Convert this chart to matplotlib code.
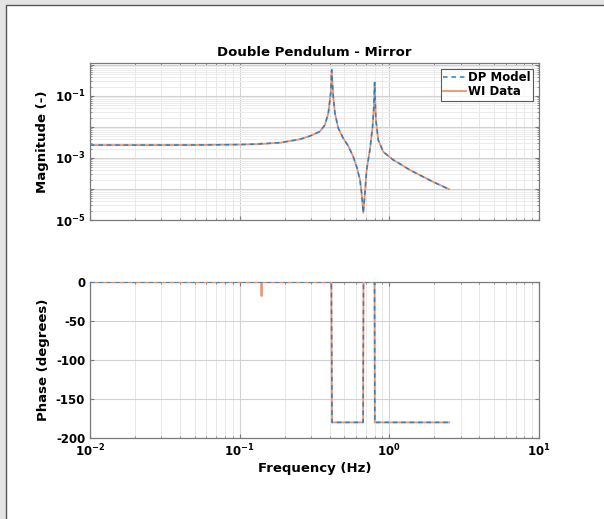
import numpy as np
import matplotlib.pyplot as plt
from matplotlib.ticker import FixedLocator, FuncFormatter, NullFormatter
from matplotlib.patches import Rectangle

# ---------------------------------------------------------------------------
# DATA
# ---------------------------------------------------------------------------

# DP model magnitude response
freq_model = [0.01, 0.02, 0.05, 0.10, 0.13, 0.186, 0.253, 0.295, 0.343, 0.371,
              0.391, 0.406, 0.412, 0.422, 0.433, 0.456, 0.492, 0.531, 0.574,
              0.605, 0.637, 0.653, 0.670, 0.687, 0.705, 0.741, 0.773, 0.788,
              0.798, 0.813, 0.843, 0.910, 1.06, 1.18, 1.37, 1.96, 2.51]
mag_model = [2.6e-3, 2.6e-3, 2.62e-3, 2.7e-3, 2.8e-3, 3.1e-3, 4.0e-3, 5.1e-3,
             7.1e-3, 1.15e-2, 2.75e-2, 1.23e-1, 6.9e-1, 9.5e-2, 2.75e-2,
             9.1e-3, 4.3e-3, 2.45e-3, 1.1e-3, 5.2e-4, 1.95e-4, 7.3e-5, 1.7e-5,
             7.3e-5, 4.1e-4, 1.8e-3, 1.02e-2, 4.5e-2, 2.7e-1, 1.7e-2, 3.8e-3,
             1.58e-3, 8.7e-4, 6.4e-4, 4.1e-4, 1.7e-4, 9.8e-5]

# WI measured magnitude (same curve plus a small glitch near 0.14 Hz)
freq_data = [0.01, 0.02, 0.05, 0.10, 0.13, 0.138, 0.140, 0.142, 0.186, 0.253,
             0.295, 0.343, 0.371, 0.391, 0.406, 0.412, 0.422, 0.433, 0.456,
             0.492, 0.531, 0.574, 0.605, 0.637, 0.653, 0.670, 0.687, 0.705,
             0.741, 0.773, 0.788, 0.798, 0.813, 0.843, 0.910, 1.06, 1.18,
             1.37, 1.96, 2.51]
mag_data = [2.6e-3, 2.6e-3, 2.62e-3, 2.7e-3, 2.8e-3, 2.82e-3, 3.0e-3, 2.84e-3,
            3.1e-3, 4.0e-3, 5.1e-3, 7.1e-3, 1.15e-2, 2.75e-2, 1.23e-1, 6.9e-1,
            9.5e-2, 2.75e-2, 9.1e-3, 4.3e-3, 2.45e-3, 1.1e-3, 5.2e-4, 1.95e-4,
            7.3e-5, 1.7e-5, 7.3e-5, 4.1e-4, 1.8e-3, 1.02e-2, 4.5e-2, 2.7e-1,
            1.7e-2, 3.8e-3, 1.58e-3, 8.7e-4, 6.4e-4, 4.1e-4, 1.7e-4, 9.8e-5]

# Phase (degrees)
freq_phase_model = [0.01, 0.410, 0.414, 0.668, 0.672, 0.796, 0.800, 2.51]
phase_model = [0, 0, -180, -180, 0, 0, -180, -180]

freq_phase_data = [0.01, 0.139, 0.140, 0.141, 0.410, 0.414, 0.668, 0.672,
                   0.796, 0.800, 2.51]
phase_data = [0, 0, -18, 0, 0, -180, -180, 0, 0, -180, -180]

# ---------------------------------------------------------------------------
# PLOT
# ---------------------------------------------------------------------------

BLUE = "#2f7fc4"
ORANGE = "#ec9470"

plt.rcParams["font.family"] = "DejaVu Sans"
plt.rcParams["font.weight"] = "bold"

fig = plt.figure(figsize=(6.04, 5.19), dpi=100)

# screenshot frame
fig.patches.append(Rectangle((0, 0), 1, 1, transform=fig.transFigure,
                             facecolor="#e4e4e4", edgecolor="none", zorder=-10))
fig.patches.append(Rectangle((6 / 604, -0.01), 1.0, 1 - 5 / 519 + 0.01,
                             transform=fig.transFigure, facecolor="white",
                             edgecolor="#555555", linewidth=1.0, zorder=-9))

ax1 = fig.add_axes([90 / 604, 1 - 220 / 519, 449 / 604, 157 / 519])
ax2 = fig.add_axes([90 / 604, 1 - 438 / 519, 449 / 604, 156 / 519])


def pow10(v, pos):
    e = int(round(np.log10(v)))
    return r"$\mathbf{10^{%d}}$" % e


for ax in (ax1, ax2):
    ax.set_xscale("log")
    ax.set_xlim(1e-2, 1e1)
    ax.set_facecolor("white")
    for s in ax.spines.values():
        s.set_color("#7a7a7a")
        s.set_linewidth(0.9)
    ax.tick_params(which="both", direction="in", top=True, right=True,
                   colors="#7a7a7a", labelcolor="black", labelsize=8.5)
    ax.tick_params(which="major", length=3)
    ax.tick_params(which="minor", length=1.5)
    ax.xaxis.set_major_formatter(FuncFormatter(pow10))
    ax.grid(True, which="major", color="#d2d2d2", linewidth=0.8)
    ax.grid(True, which="minor", axis="x", color="#e8e8e8", linewidth=0.7)
    ax.set_axisbelow(True)

# magnitude
ax1.plot(freq_data, mag_data, "-", color=ORANGE, linewidth=1.3, zorder=3)
ax1.plot(freq_model, mag_model, "--", color=BLUE, linewidth=1.1,
         dashes=(3, 2.5), zorder=4)
ax1.set_yscale("log")
ax1.set_ylim(1e-5, 1.15)
ax1.yaxis.set_major_locator(FixedLocator([1e-5, 1e-4, 1e-3, 1e-2, 1e-1, 1e0]))
ax1.yaxis.set_major_formatter(
    FuncFormatter(lambda v, p: pow10(v, p) if int(round(np.log10(v))) % 2 else ""))
ax1.yaxis.set_minor_formatter(NullFormatter())
ax1.grid(True, which="minor", axis="y", color="#ececec", linewidth=0.7)
ax1.xaxis.set_major_formatter(NullFormatter())
ax1.set_ylabel("Magnitude (-)", fontsize=9.5, fontweight="bold", labelpad=4)
ax1.set_title("Double Pendulum - Mirror", fontsize=9.5, fontweight="bold", pad=5)

h_model, = ax1.plot([], [], "--", color=BLUE, linewidth=1.1, dashes=(3, 2.5))
h_data, = ax1.plot([], [], "-", color=ORANGE, linewidth=1.3)
leg = ax1.legend([h_model, h_data], ["DP Model", "WI Data"], loc="upper right",
                 fontsize=8.5, frameon=True, fancybox=False, borderpad=0.2,
                 handlelength=1.9, handletextpad=0.2, labelspacing=0.1,
                 borderaxespad=0.5)
leg.get_frame().set_edgecolor("#333333")
leg.get_frame().set_linewidth(0.8)
for t in leg.get_texts():
    t.set_fontweight("bold")

# phase
ax2.plot(freq_phase_data, phase_data, "-", color=ORANGE, linewidth=1.3, zorder=3)
ax2.plot(freq_phase_model, phase_model, "--", color=BLUE, linewidth=1.1,
         dashes=(3, 2.5), zorder=4)
ax2.set_ylim(-200, 0)
ax2.set_yticks([-200, -150, -100, -50, 0])
ax2.set_yticklabels(["-200", "-150", "-100", "-50", "0"], fontweight="bold")
ax2.set_ylabel("Phase (degrees)", fontsize=9.5, fontweight="bold", labelpad=4)
ax2.set_xlabel("Frequency (Hz)", fontsize=9.5, fontweight="bold", labelpad=2)

plt.savefig("out.png", dpi=100)
